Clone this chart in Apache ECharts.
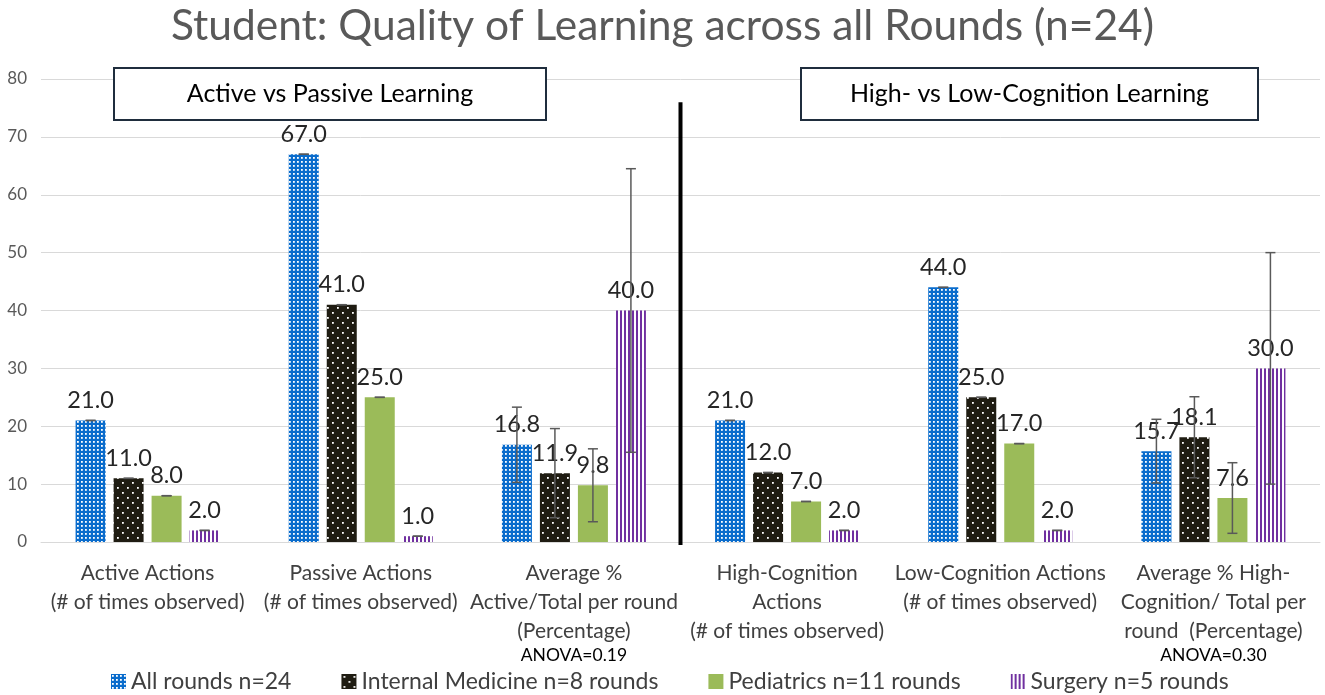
<!DOCTYPE html>
<html>
<head>
<meta charset="utf-8">
<script src="https://cdn.jsdelivr.net/npm/echarts@6/dist/echarts.min.js"></script>
<style>html,body{margin:0;padding:0;background:#fff}#c{width:1325px;height:695px}</style>
</head>
<body>
<div id="c"></div>
<script>
const categories = [
  'Active Actions\n(# of times observed)',
  'Passive Actions\n(# of times observed)',
  'Average %\nActive/Total per round\n(Percentage)\n{a|ANOVA=0.19}',
  'High-Cognition\nActions\n(# of times observed)',
  'Low-Cognition Actions\n(# of times observed)',
  'Average % High-\nCognition/ Total per\nround  (Percentage)\n{a|ANOVA=0.30}'
];
const seriesNames = ['All rounds n=24', 'Internal Medicine n=8 rounds', 'Pediatrics n=11 rounds', 'Surgery n=5 rounds'];
const allRounds = [21.0, 67.0, 16.8, 21.0, 44.0, 15.7];
const internalMedicine = [11.0, 41.0, 11.9, 12.0, 25.0, 18.1];
const pediatrics = [8.0, 25.0, 9.8, 7.0, 17.0, 7.6];
const surgery = [2.0, 1.0, 40.0, 2.0, 2.0, 30.0];
const allErr = [0, 0, 6.5, 0, 0, 5.5];
const imErr = [0, 0, 7.7, 0, 0, 7.0];
const pedErr = [0, 0, 6.3, 0, 0, 6.1];
const surgErr = [0, 0, 24.5, 0, 0, 20.0];
const yTicks = { min: 0, max: 80, interval: 10 };
const boxTitles = ['Active vs Passive Learning', 'High- vs Low-Cognition Learning'];
const chartTitle = 'Student: Quality of Learning across all Rounds (n=24)';

const FONT = 'Lato, "Noto Sans", sans-serif';

function pattern(w, h, draw) {
  const c = document.createElement('canvas');
  c.width = w; c.height = h;
  const g = c.getContext('2d');
  draw(g);
  return { image: c, repeat: 'repeat' };
}
const bluePat = pattern(4, 4, g => { g.fillStyle = '#0a6ccc'; g.fillRect(0,0,4,4); g.fillStyle = '#ffffff'; g.fillRect(1,1,1.8,1.8); });
const blackPat = pattern(10, 10, g => { g.fillStyle = '#1f1c12'; g.fillRect(0,0,10,10); g.fillStyle = '#ffffff'; g.fillRect(2,2,1.8,1.8); g.fillRect(7,7,1.8,1.8); });
const greenPat = '#9bbb59';
const purplePat = pattern(4, 4, g => { g.fillStyle = '#ffffff'; g.fillRect(0,0,4,4); g.fillStyle = '#7030a0'; g.fillRect(0,0,2,4); });

const values = [allRounds, internalMedicine, pediatrics, surgery];
const errors = [allErr, imErr, pedErr, surgErr];
const fills = [bluePat, blackPat, greenPat, purplePat];

const BAR_W = 30, GAP = 8;

const errData = [];
values.forEach((vals, s) => vals.forEach((v, i) => errData.push([i, s, v - errors[s][i], v + errors[s][i]])));

const chart = echarts.init(document.getElementById('c'));
const barSeries = values.map((vals, s) => ({
  name: seriesNames[s],
  type: 'bar',
  data: vals,
  barWidth: BAR_W,
  barGap: (GAP / BAR_W * 100) + '%',
  itemStyle: { color: fills[s] },
  label: {
    show: true, position: 'top', distance: 8,
    fontFamily: FONT, fontSize: 23.5, color: '#262626',
    formatter: p => p.value.toFixed(1)
  },
  z: 2
}));

chart.setOption({
  animation: false,
  textStyle: { fontFamily: FONT },
  title: {
    text: chartTitle, left: 'center', top: 0,
    textStyle: { fontFamily: FONT, fontSize: 42.5, fontWeight: 'normal', color: '#595959' }
  },
  legend: {
    data: seriesNames, left: 106, top: 665,
    itemWidth: 15, itemHeight: 15, itemGap: 50, icon: 'rect',
    textStyle: { fontFamily: FONT, fontSize: 23, color: '#404040' }
  },
  grid: { left: 41, right: 5, top: 79, bottom: 153, containLabel: false },
  xAxis: {
    type: 'category', data: categories,
    axisTick: { show: false },
    axisLine: { lineStyle: { color: '#d9d9d9', width: 1 } },
    axisLabel: {
      interval: 0, fontFamily: FONT, fontSize: 21, lineHeight: 29, color: '#404040', margin: 17,
      rich: { a: { fontFamily: FONT, fontSize: 17.5, lineHeight: 18, color: '#000000' } }
    }
  },
  yAxis: {
    type: 'value', min: yTicks.min, max: yTicks.max, interval: yTicks.interval,
    axisLine: { show: false }, axisTick: { show: false },
    splitLine: { lineStyle: { color: '#d9d9d9', width: 1 } },
    axisLabel: { fontFamily: FONT, fontSize: 17, color: '#595959', margin: 14 }
  },
  series: barSeries.concat([{
    type: 'custom',
    name: 'err',
    data: errData,
    z: 5,
    silent: true,
    renderItem: function (params, api) {
      const ci = api.value(0), si = api.value(1);
      const cx = api.coord([ci, 0])[0] + (si - 1.5) * (BAR_W + GAP);
      const yl = api.coord([ci, api.value(2)])[1];
      const yh = api.coord([ci, api.value(3)])[1];
      const st = { stroke: '#595959', lineWidth: 1.5 };
      const cap = 5;
      return {
        type: 'group',
        children: [
          { type: 'line', shape: { x1: cx, y1: yl, x2: cx, y2: yh }, style: st },
          { type: 'line', shape: { x1: cx - cap, y1: yh, x2: cx + cap, y2: yh }, style: st },
          { type: 'line', shape: { x1: cx - cap, y1: yl, x2: cx + cap, y2: yl }, style: st }
        ]
      };
    }
  }])
});

const xa = chart.convertToPixel({ xAxisIndex: 0 }, 2);
const xb = chart.convertToPixel({ xAxisIndex: 0 }, 3);
const yTop = chart.convertToPixel({ yAxisIndex: 0 }, 76);
const yBot = chart.convertToPixel({ yAxisIndex: 0 }, 0);
const divX = (xa + xb) / 2;

function box(x, y, w, h, text) {
  return {
    type: 'group', left: x, top: y,
    children: [
      { type: 'rect', shape: { x: 0, y: 0, width: w, height: h }, style: { fill: '#ffffff', stroke: '#1f2d3d', lineWidth: 2 } },
      { type: 'text', x: w / 2, y: h / 2, style: { text: text, fontFamily: FONT, fontSize: 25, fill: '#000000', align: 'center', verticalAlign: 'middle' } }
    ]
  };
}

chart.setOption({
  graphic: [
    { type: 'line', shape: { x1: divX, y1: yTop, x2: divX, y2: yBot + 3 }, style: { stroke: '#000000', lineWidth: 4 }, z: 10 },
    box(113, 67, 432, 52, boxTitles[0]),
    box(800, 67, 457, 52, boxTitles[1])
  ]
});
</script>
</body>
</html>
